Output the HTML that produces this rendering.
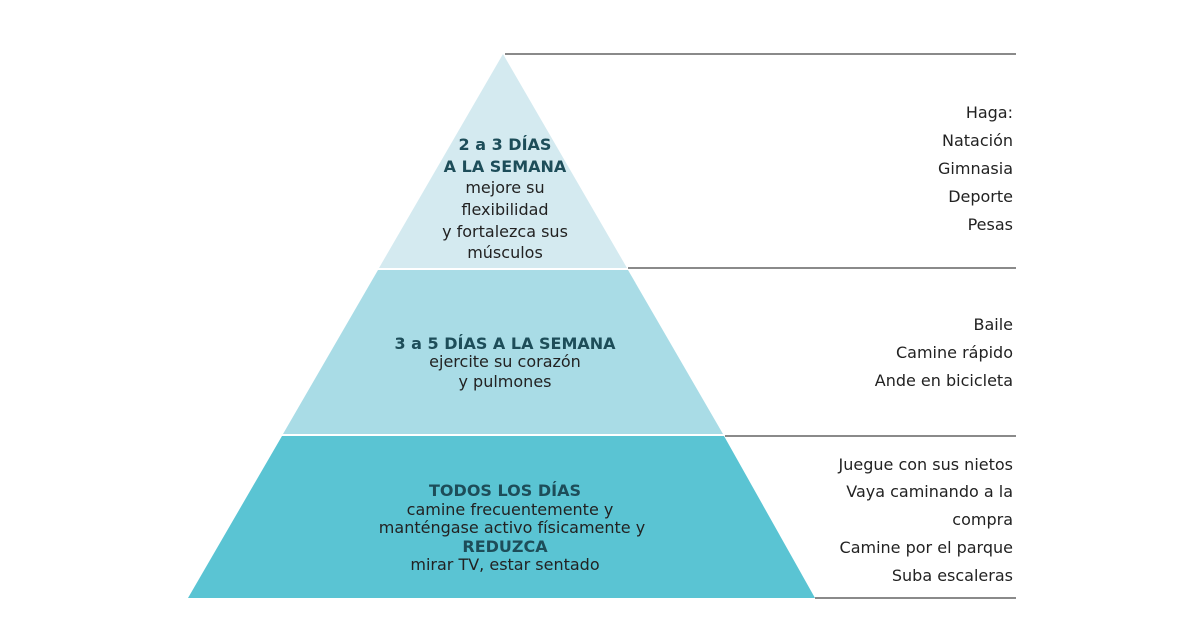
<!DOCTYPE html>
<html><head><meta charset="utf-8"><style>
html,body{margin:0;padding:0;background:#fff;}
svg{display:block}
text{font-family:"DejaVu Sans","Liberation Sans",sans-serif;font-size:16px;fill:#222;}
.h{font-weight:bold;fill:#1d4d59;}
</style></head><body>
<svg width="1200" height="627" viewBox="0 0 1200 627">
<polygon points="503,54 627,268 379,268" fill="#d4eaf0"/>
<polygon points="378,270 628,270 723,434 283,434" fill="#a9dce6"/>
<polygon points="282,436 724,436 815,598 188,598" fill="#5ac4d3"/>
<g stroke="#8a8a8a" stroke-width="2">
<line x1="505" y1="54" x2="1016" y2="54"/>
<line x1="628" y1="268" x2="1016" y2="268"/>
<line x1="725" y1="436" x2="1016" y2="436"/>
<line x1="815" y1="598" x2="1016" y2="598"/>
</g>
<g text-anchor="middle">
<text x="505" y="150" class="h">2 a 3 DÍAS</text>
<text x="505" y="172" class="h">A LA SEMANA</text>
<text x="505" y="193">mejore su</text>
<text x="505" y="215">flexibilidad</text>
<text x="505" y="237">y fortalezca sus</text>
<text x="505" y="258">músculos</text>
<text x="505" y="349" class="h">3 a 5 DÍAS A LA SEMANA</text>
<text x="505" y="367">ejercite su corazón</text>
<text x="505" y="387">y pulmones</text>
<text x="505" y="496" class="h">TODOS LOS DÍAS</text>
<text x="510" y="515">camine frecuentemente y</text>
<text x="512" y="533">manténgase activo físicamente y</text>
<text x="505" y="552" class="h">REDUZCA</text>
<text x="505" y="570">mirar TV, estar sentado</text>
</g>
<g text-anchor="end">
<text x="1013" y="118">Haga:</text>
<text x="1013" y="146">Natación</text>
<text x="1013" y="174">Gimnasia</text>
<text x="1013" y="202">Deporte</text>
<text x="1013" y="230">Pesas</text>
<text x="1013" y="330">Baile</text>
<text x="1013" y="358">Camine rápido</text>
<text x="1013" y="386">Ande en bicicleta</text>
<text x="1013" y="470">Juegue con sus nietos</text>
<text x="1013" y="497">Vaya caminando a la</text>
<text x="1013" y="525">compra</text>
<text x="1013" y="553">Camine por el parque</text>
<text x="1013" y="581">Suba escaleras</text>
</g>
</svg>
</body></html>
